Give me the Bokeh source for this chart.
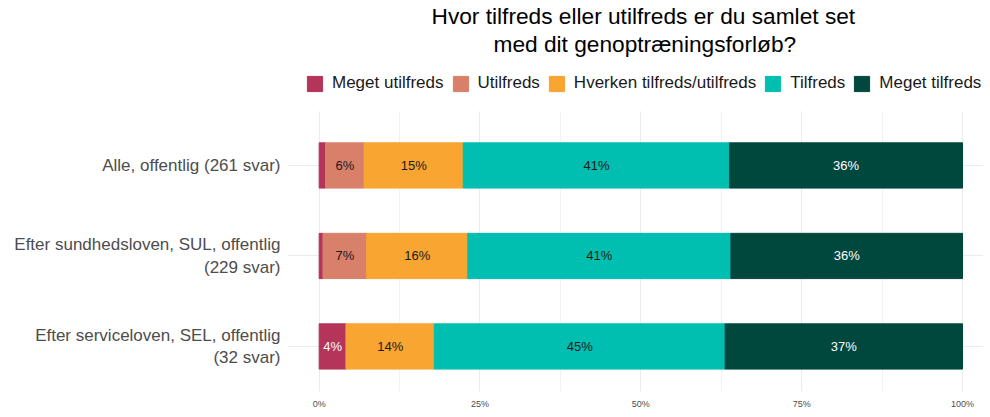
from bokeh.plotting import figure
from bokeh.models import (ColumnDataSource, Range1d, Title, Legend,
                          LegendItem, FixedTicker, BoxAnnotation)
from bokeh.embed import file_html
from bokeh.resources import INLINE
from bokeh.core.properties import value

# ---------------- data ----------------
categories = ["Alle, offentlig (261 svar)",
              "Efter sundhedsloven, SUL, offentlig\n(229 svar)",
              "Efter serviceloven, SEL, offentlig\n(32 svar)"]
levels = ["Meget utilfreds", "Utilfreds", "Hverken tilfreds/utilfreds",
          "Tilfreds", "Meget tilfreds"]
meget_utilfreds = [1.0, 0.6, 4.2]
utilfreds = [6.0, 6.8, 0.0]
hverken = [15.4, 15.7, 13.7]
tilfreds = [41.4, 40.9, 45.2]
meget_tilfreds = [36.2, 36.0, 36.9]
x_ticks = [0, 25, 50, 75, 100]
x_minor_ticks = [12.5, 37.5, 62.5, 87.5]
x_tick_labels = ["0%", "25%", "50%", "75%", "100%"]

# ---------------- style ----------------
colors = ["#B5345A", "#D9806A", "#F8A531", "#00BFB0", "#00473E"]
label_colors = ["#ffffff", "#1a1a1a", "#1a1a1a", "#1a1a1a", "#ffffff"]
FONT = "Liberation Sans"

n = len(categories)
ypos = [n - i for i in range(n)]          # first category on top
cat_top = n + 0.6                           # upper edge of the category band
y_end = n + 1.204
y_start = y_end - 335 / 90.5

keys = ["mu", "u", "h", "t", "mt"]
series = [meget_utilfreds, utilfreds, hverken, tilfreds, meget_tilfreds]
data = {"y": ypos}
for k, s in zip(keys, series):
    data[k] = s
source = ColumnDataSource(data)

# labels in segment centres
lx, ly, lt, lc = [], [], [], []
for i in range(n):
    cum = 0.0
    for j, s in enumerate(series):
        v = s[i]
        if v >= 3:
            lx.append(cum + v / 2)
            ly.append(ypos[i])
            lt.append(f"{v:.0f}%")
            lc.append(label_colors[j])
        cum += v
lab_src = ColumnDataSource(dict(x=lx, y=ly, text=lt, color=lc))

x_start, x_end = -4.92, 103.26
p = figure(frame_width=696, frame_height=335, output_backend="svg",
           toolbar_location=None, title=None,
           x_range=Range1d(x_start, x_end),
           y_range=Range1d(y_start, y_end),
           min_border_left=285, min_border_right=0, min_border_top=0,
           min_border_bottom=0)
p.outline_line_color = None

# white band hiding the grid above the category band (legend area)
p.add_layout(BoxAnnotation(left=x_start, right=x_end, bottom=cat_top, top=y_end,
                           fill_color="white", fill_alpha=1, line_color=None,
                           level="underlay"))

renderers = p.hbar_stack(keys, y="y", height=0.5, color=colors, source=source)

p.text(x="x", y="y", text="text", text_color="color", source=lab_src,
       text_align="center", text_baseline="middle",
       text_font=value(FONT), text_font_size=value("13px"))

legend = Legend(items=[LegendItem(label=l, renderers=[r]) for l, r in zip(levels, renderers)],
                orientation="horizontal", location=(18, 298),
                glyph_width=19, glyph_height=19, label_standoff=8, spacing=7,
                padding=0, margin=0, border_line_color=None,
                background_fill_alpha=0, label_text_font=FONT,
                label_text_font_size="17px", label_text_color="#1a1a1a")
p.add_layout(legend, "center")

t2 = Title(text="med dit genoptræningsforløb?", align="left", offset=206,
           text_font=FONT, text_font_size="22.7px", text_font_style="normal",
           text_color="#000000", standoff=0)
t1 = Title(text="Hvor tilfreds eller utilfreds er du samlet set", align="left",
           offset=144,
           text_font=FONT, text_font_size="22.7px", text_font_style="normal",
           text_color="#000000", standoff=0)
p.add_layout(t2, "above")
p.add_layout(t1, "above")

# axes
ticker = FixedTicker(ticks=x_ticks, minor_ticks=x_minor_ticks)
p.xaxis.ticker = ticker
p.xgrid.ticker = ticker
p.xaxis.major_label_overrides = dict(zip(x_ticks, x_tick_labels))
p.xaxis.axis_label = None
p.xaxis.axis_line_color = None
p.xaxis.major_tick_line_color = None
p.xaxis.minor_tick_line_color = None
p.xaxis.major_tick_out = 0
p.xaxis.minor_tick_out = 0
p.xaxis.major_label_text_font = FONT
p.xaxis.major_label_text_font_size = "9px"
p.xaxis.major_label_text_color = "#4d4d4d"
p.xaxis.major_label_standoff = 7

yticker = FixedTicker(ticks=ypos, minor_ticks=[])
p.yaxis.ticker = yticker
p.ygrid.ticker = yticker
p.yaxis.major_label_overrides = dict(zip(ypos, categories))
p.yaxis.axis_label = "\u00a0"
p.yaxis.axis_label_text_font_size = "1px"
p.yaxis.axis_label_standoff = 7
p.yaxis.axis_line_color = None
p.yaxis.major_tick_line_color = None
p.yaxis.minor_tick_line_color = None
p.yaxis.major_tick_out = 0
p.yaxis.minor_tick_out = 0
p.yaxis.major_label_text_font = FONT
p.yaxis.major_label_text_font_size = "17px"
p.yaxis.major_label_text_color = "#4d4d4d"
p.yaxis.major_label_text_line_height = 1.2
p.yaxis.major_label_standoff = 7

p.xgrid.grid_line_color = "#ebebeb"
p.xgrid.minor_grid_line_color = "#f2f2f2"
p.ygrid.grid_line_color = "#ebebeb"

open("out.html", "w").write(file_html(p, INLINE))
